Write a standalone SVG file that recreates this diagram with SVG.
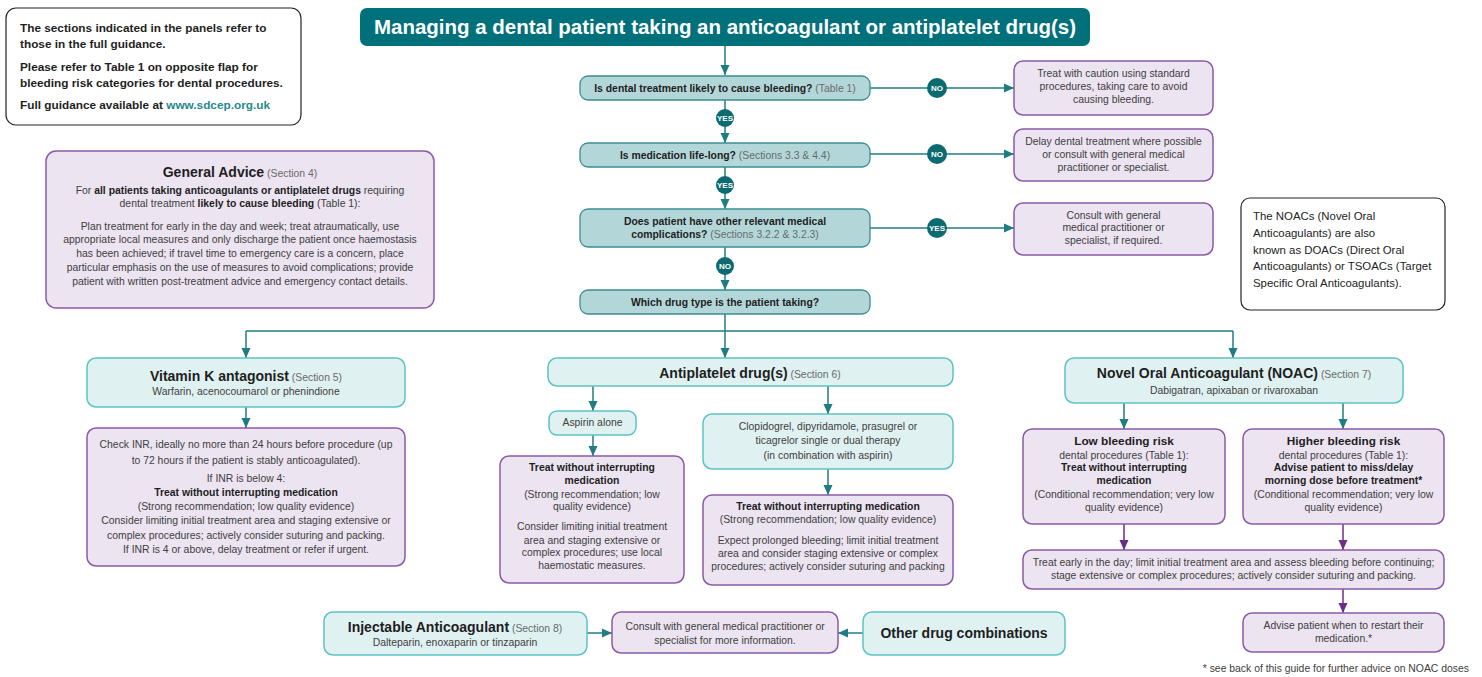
<svg xmlns="http://www.w3.org/2000/svg" width="1482" height="677" viewBox="0 0 1482 677">
<defs>
<style>
text { font-family: "Liberation Sans", Arial, sans-serif; }
.c { text-anchor: middle; }
.b { font-weight: bold; fill: #1e1e1e; }
.r { fill: #404040; }
.g { fill: #6a6a6a; }
.q { fill: #b3d7d9; stroke: #3a8e93; stroke-width: 1.3; }
.lt { fill: #e0f1f1; stroke: #5cc3c3; stroke-width: 1.5; }
.pu { fill: #ece4f1; stroke: #8a5aa6; stroke-width: 1.5; }
.wn { fill: #ffffff; stroke: #222222; stroke-width: 1.2; }
.ln { fill: none; stroke: #1f7d82; stroke-width: 1.5; }
.lp { fill: none; stroke: #6b2d8a; stroke-width: 1.5; }
.dot { fill: #0b6b70; }
.dt { font-weight: bold; fill: #ffffff; font-size: 8px; text-anchor: middle; }
</style>
<marker id="at" markerUnits="userSpaceOnUse" markerWidth="10" markerHeight="10" viewBox="0 0 10 10" refX="10" refY="5" orient="auto">
<path d="M0,0.5 L10,5 L0,9.5 Z" fill="#1f7d82"/>
</marker>
<marker id="ap" markerUnits="userSpaceOnUse" markerWidth="10" markerHeight="10" viewBox="0 0 10 10" refX="10" refY="5" orient="auto">
<path d="M0,0.5 L10,5 L0,9.5 Z" fill="#6b2d8a"/>
</marker>
</defs>
<rect width="1482" height="677" fill="#ffffff"/>

<g id="connectors">
<line class="ln" x1="725" y1="46" x2="725" y2="75" marker-end="url(#at)"/>
<line class="ln" x1="725" y1="100" x2="725" y2="143" marker-end="url(#at)"/>
<line class="ln" x1="725" y1="167" x2="725" y2="209" marker-end="url(#at)"/>
<line class="ln" x1="725" y1="247" x2="725" y2="290" marker-end="url(#at)"/>
<line class="ln" x1="870" y1="88" x2="1014" y2="88" marker-end="url(#at)"/>
<line class="ln" x1="870" y1="154" x2="1014" y2="154" marker-end="url(#at)"/>
<line class="ln" x1="870" y1="228" x2="1014" y2="228" marker-end="url(#at)"/>
<polyline class="ln" points="725,314 725,331"/>
<polyline class="ln" points="246,331 1233,331"/>
<line class="ln" x1="246" y1="331" x2="246" y2="358" marker-end="url(#at)"/>
<line class="ln" x1="725" y1="331" x2="725" y2="358" marker-end="url(#at)"/>
<line class="ln" x1="1233" y1="331" x2="1233" y2="358" marker-end="url(#at)"/>
<line class="ln" x1="246" y1="407" x2="246" y2="428" marker-end="url(#at)"/>
<line class="ln" x1="593" y1="386" x2="593" y2="411" marker-end="url(#at)"/>
<line class="ln" x1="593" y1="435" x2="593" y2="456" marker-end="url(#at)"/>
<line class="ln" x1="828" y1="386" x2="828" y2="414" marker-end="url(#at)"/>
<line class="ln" x1="828" y1="469" x2="828" y2="495" marker-end="url(#at)"/>
<line class="ln" x1="1124" y1="403" x2="1124" y2="429" marker-end="url(#at)"/>
<line class="ln" x1="1343" y1="403" x2="1343" y2="429" marker-end="url(#at)"/>
<line class="lp" x1="1124" y1="524" x2="1124" y2="550" marker-end="url(#ap)"/>
<line class="lp" x1="1343" y1="524" x2="1343" y2="550" marker-end="url(#ap)"/>
<line class="lp" x1="1343" y1="589" x2="1343" y2="613" marker-end="url(#ap)"/>
<line class="ln" x1="587" y1="633" x2="612" y2="633" marker-end="url(#at)"/>
<line class="ln" x1="863" y1="633" x2="838" y2="633" marker-end="url(#at)"/>
<circle class="dot" cx="725" cy="118" r="9"/><text class="dt" x="725" y="121">YES</text>
<circle class="dot" cx="725" cy="185" r="9"/><text class="dt" x="725" y="188">YES</text>
<circle class="dot" cx="725" cy="266" r="9"/><text class="dt" x="725" y="269">NO</text>
<circle class="dot" cx="937" cy="88" r="10"/><text class="dt" x="937" y="91">NO</text>
<circle class="dot" cx="937" cy="154" r="10"/><text class="dt" x="937" y="157">NO</text>
<circle class="dot" cx="937" cy="228" r="10"/><text class="dt" x="937" y="231">YES</text>
</g>

<g id="note-sections">
<rect class="wn" x="6" y="8" width="295" height="117" rx="10"/>
<text class="b" font-size="11.8" x="20" y="31.5">The sections indicated in the panels refer to</text>
<text class="b" font-size="11.8" x="20" y="48">those in the full guidance.</text>
<text class="b" font-size="11.8" x="20" y="70.5">Please refer to Table 1 on opposite flap for</text>
<text class="b" font-size="11.8" x="20" y="86.5">bleeding risk categories for dental procedures.</text>
<text class="b" font-size="11.8" x="20" y="108.5">Full guidance available at <tspan fill="#1f8a8a">www.sdcep.org.uk</tspan></text>
</g>

<g id="title">
<rect x="360" y="8" width="730" height="38" rx="7" fill="#00707a"/>
<text x="725" y="34" class="c" font-size="20" font-weight="bold" fill="#ffffff" textLength="702" lengthAdjust="spacingAndGlyphs">Managing a dental patient taking an anticoagulant or antiplatelet drug(s)</text>
</g>

<g id="q1">
<rect class="q" x="580" y="76" width="290" height="24" rx="8"/>
<text class="c" font-size="10.4" x="725" y="91.5"><tspan class="b">Is dental treatment likely to cause bleeding?</tspan><tspan class="g"> (Table 1)</tspan></text>
</g>
<g id="q2">
<rect class="q" x="580" y="143" width="290" height="24" rx="8"/>
<text class="c" font-size="10.4" x="725" y="158.5"><tspan class="b">Is medication life-long?</tspan><tspan class="g"> (Sections 3.3 &amp; 4.4)</tspan></text>
</g>
<g id="q3">
<rect class="q" x="580" y="209" width="290" height="38" rx="8"/>
<text class="c b" font-size="10.4" x="725" y="224.5">Does patient have other relevant medical</text>
<text class="c" font-size="10.4" x="725" y="238"><tspan class="b">complications?</tspan><tspan class="g"> (Sections 3.2.2 &amp; 3.2.3)</tspan></text>
</g>
<g id="q4">
<rect class="q" x="580" y="290" width="290" height="24" rx="8"/>
<text class="c b" font-size="10.4" x="725" y="305.5">Which drug type is the patient taking?</text>
</g>

<g id="out1">
<rect class="pu" x="1014" y="61" width="199" height="54" rx="9"/>
<text class="c r" font-size="10.4" x="1113.5" y="77">Treat with caution using standard</text>
<text class="c r" font-size="10.4" x="1113.5" y="89.5">procedures, taking care to avoid</text>
<text class="c r" font-size="10.4" x="1113.5" y="102.5">causing bleeding.</text>
</g>
<g id="out2">
<rect class="pu" x="1014" y="129" width="199" height="52" rx="9"/>
<text class="c r" font-size="10.4" x="1113.5" y="144.5">Delay dental treatment where possible</text>
<text class="c r" font-size="10.4" x="1113.5" y="158">or consult with general medical</text>
<text class="c r" font-size="10.4" x="1113.5" y="171">practitioner or specialist.</text>
</g>
<g id="out3">
<rect class="pu" x="1014" y="203" width="199" height="52" rx="9"/>
<text class="c r" font-size="10.4" x="1113.5" y="218.5">Consult with general</text>
<text class="c r" font-size="10.4" x="1113.5" y="231">medical practitioner or</text>
<text class="c r" font-size="10.4" x="1113.5" y="244">specialist, if required.</text>
</g>

<g id="note-noac">
<rect class="wn" x="1241" y="198" width="204" height="112" rx="9"/>
<text font-size="11.4" x="1253" y="220" fill="#222">The NOACs (Novel Oral</text>
<text font-size="11.4" x="1253" y="237" fill="#222">Anticoagulants) are also</text>
<text font-size="11.4" x="1253" y="253.5" fill="#222">known as DOACs (Direct Oral</text>
<text font-size="11.4" x="1253" y="270" fill="#222">Anticoagulants) or TSOACs (Target</text>
<text font-size="11.4" x="1253" y="287" fill="#222">Specific Oral Anticoagulants).</text>
</g>

<g id="general-advice">
<rect class="pu" x="46" y="151" width="388" height="157" rx="10"/>
<text class="c" x="240" y="177"><tspan class="b" font-size="14">General Advice</tspan><tspan class="g" font-size="10.4"> (Section 4)</tspan></text>
<text class="c r" font-size="10.4" x="240" y="193.5">For <tspan class="b">all patients taking anticoagulants or antiplatelet drugs</tspan> requiring</text>
<text class="c r" font-size="10.4" x="240" y="207">dental treatment <tspan class="b">likely to cause bleeding</tspan> (Table 1):</text>
<text class="c r" font-size="10.4" x="240" y="229.5">Plan treatment for early in the day and week; treat atraumatically, use</text>
<text class="c r" font-size="10.4" x="240" y="243">appropriate local measures and only discharge the patient once haemostasis</text>
<text class="c r" font-size="10.4" x="240" y="257">has been achieved; if travel time to emergency care is a concern, place</text>
<text class="c r" font-size="10.4" x="240" y="270.5">particular emphasis on the use of measures to avoid complications; provide</text>
<text class="c r" font-size="10.4" x="240" y="284.5">patient with written post-treatment advice and emergency contact details.</text>
</g>

<g id="vitk">
<rect class="lt" x="87" y="358" width="318" height="49" rx="9"/>
<text class="c" x="246" y="380.5"><tspan class="b" font-size="14">Vitamin K antagonist</tspan><tspan class="g" font-size="10.4"> (Section 5)</tspan></text>
<text class="c r" font-size="10.4" x="246" y="395">Warfarin, acenocoumarol or phenindione</text>
</g>
<g id="vitk-advice">
<rect class="pu" x="87" y="428" width="318" height="138" rx="9"/>
<text class="c r" font-size="10.4" x="246" y="447.5">Check INR, ideally no more than 24 hours before procedure (up</text>
<text class="c r" font-size="10.4" x="246" y="463.5">to 72 hours if the patient is stably anticoagulated).</text>
<text class="c r" font-size="10.4" x="246" y="481.5">If INR is below 4:</text>
<text class="c b" font-size="10.4" x="246" y="495.5">Treat without interrupting medication</text>
<text class="c r" font-size="10.4" x="246" y="509.5">(Strong recommendation; low quality evidence)</text>
<text class="c r" font-size="10.4" x="246" y="523.5">Consider limiting initial treatment area and staging extensive or</text>
<text class="c r" font-size="10.4" x="246" y="538.5">complex procedures; actively consider suturing and packing.</text>
<text class="c r" font-size="10.4" x="246" y="552.5">If INR is 4 or above, delay treatment or refer if urgent.</text>
</g>

<g id="antiplatelet">
<rect class="lt" x="548" y="358" width="405" height="28" rx="9"/>
<text class="c" x="750" y="377.5"><tspan class="b" font-size="14">Antiplatelet drug(s)</tspan><tspan class="g" font-size="10.4"> (Section 6)</tspan></text>
</g>
<g id="aspirin">
<rect class="lt" x="549" y="411" width="87" height="24" rx="8"/>
<text class="c r" font-size="10.4" x="592.5" y="426">Aspirin alone</text>
</g>
<g id="aspirin-advice">
<rect class="pu" x="500" y="456" width="184" height="127" rx="9"/>
<text class="c b" font-size="10.4" x="592" y="470.5">Treat without interrupting</text>
<text class="c b" font-size="10.4" x="592" y="483.5">medication</text>
<text class="c r" font-size="10.4" x="592" y="497.5">(Strong recommendation; low</text>
<text class="c r" font-size="10.4" x="592" y="509.5">quality evidence)</text>
<text class="c r" font-size="10.4" x="592" y="530">Consider limiting initial treatment</text>
<text class="c r" font-size="10.4" x="592" y="543.5">area and staging extensive or</text>
<text class="c r" font-size="10.4" x="592" y="556">complex procedures; use local</text>
<text class="c r" font-size="10.4" x="592" y="569">haemostatic measures.</text>
</g>
<g id="clopidogrel">
<rect class="lt" x="703" y="414" width="250" height="55" rx="9"/>
<text class="c r" font-size="10.4" x="828" y="429.5">Clopidogrel, dipyridamole, prasugrel or</text>
<text class="c r" font-size="10.4" x="828" y="443.5">ticagrelor single or dual therapy</text>
<text class="c r" font-size="10.4" x="828" y="458.5">(in combination with aspirin)</text>
</g>
<g id="clopidogrel-advice">
<rect class="pu" x="703" y="495" width="250" height="90" rx="9"/>
<text class="c b" font-size="10.4" x="828" y="509.5">Treat without interrupting medication</text>
<text class="c r" font-size="10.4" x="828" y="522.5">(Strong recommendation; low quality evidence)</text>
<text class="c r" font-size="10.4" x="828" y="544">Expect prolonged bleeding; limit initial treatment</text>
<text class="c r" font-size="10.4" x="828" y="556.5">area and consider staging extensive or complex</text>
<text class="c r" font-size="10.4" x="828" y="569.5">procedures; actively consider suturing and packing</text>
</g>

<g id="noac">
<rect class="lt" x="1065" y="358" width="338" height="45" rx="9"/>
<text class="c" x="1234" y="378"><tspan class="b" font-size="14">Novel Oral Anticoagulant (NOAC)</tspan><tspan class="g" font-size="10.4"> (Section 7)</tspan></text>
<text class="c r" font-size="10.4" x="1234" y="394">Dabigatran, apixaban or rivaroxaban</text>
</g>
<g id="noac-low">
<rect class="pu" x="1023" y="429" width="202" height="95" rx="9"/>
<text class="c b" font-size="11.8" x="1124" y="445">Low bleeding risk</text>
<text class="c r" font-size="10.4" x="1124" y="458.5">dental procedures (Table 1):</text>
<text class="c b" font-size="10.4" x="1124" y="471">Treat without interrupting</text>
<text class="c b" font-size="10.4" x="1124" y="484">medication</text>
<text class="c r" font-size="10.4" x="1124" y="497.5">(Conditional recommendation; very low</text>
<text class="c r" font-size="10.4" x="1124" y="510.5">quality evidence)</text>
</g>
<g id="noac-high">
<rect class="pu" x="1243" y="429" width="201" height="95" rx="9"/>
<text class="c b" font-size="11.8" x="1343.5" y="445">Higher bleeding risk</text>
<text class="c r" font-size="10.4" x="1343.5" y="458.5">dental procedures (Table 1):</text>
<text class="c b" font-size="10.4" x="1343.5" y="471">Advise patient to miss/delay</text>
<text class="c b" font-size="10.4" x="1343.5" y="484">morning dose before treatment*</text>
<text class="c r" font-size="10.4" x="1343.5" y="497.5">(Conditional recommendation; very low</text>
<text class="c r" font-size="10.4" x="1343.5" y="510.5">quality evidence)</text>
</g>
<g id="noac-common">
<rect class="pu" x="1023" y="550" width="421" height="39" rx="9"/>
<text class="c r" font-size="10.4" x="1233.5" y="565.5">Treat early in the day; limit initial treatment area and assess bleeding before continuing;</text>
<text class="c r" font-size="10.4" x="1233.5" y="579">stage extensive or complex procedures; actively consider suturing and packing.</text>
</g>
<g id="noac-restart">
<rect class="pu" x="1243" y="613" width="201" height="39" rx="9"/>
<text class="c r" font-size="10.4" x="1343.5" y="628.5">Advise patient when to restart their</text>
<text class="c r" font-size="10.4" x="1343.5" y="642">medication.*</text>
</g>

<g id="injectable">
<rect class="lt" x="324" y="612" width="263" height="43" rx="9"/>
<text class="c" x="455" y="632"><tspan class="b" font-size="14">Injectable Anticoagulant</tspan><tspan class="g" font-size="10.4"> (Section 8)</tspan></text>
<text class="c r" font-size="10.4" x="455" y="646">Dalteparin, enoxaparin or tinzaparin</text>
</g>
<g id="consult">
<rect class="pu" x="612" y="612" width="226" height="41" rx="9"/>
<text class="c r" font-size="10.4" x="725" y="629.5">Consult with general medical practitioner or</text>
<text class="c r" font-size="10.4" x="725" y="643.5">specialist for more information.</text>
</g>
<g id="other">
<rect class="lt" x="863" y="612" width="202" height="43" rx="9"/>
<text class="c b" font-size="14" x="964" y="638">Other drug combinations</text>
</g>

<g id="footnote">
<text class="r" font-size="10.4" x="1469" y="672" text-anchor="end">* see back of this guide for further advice on NOAC doses</text>
</g>
</svg>
